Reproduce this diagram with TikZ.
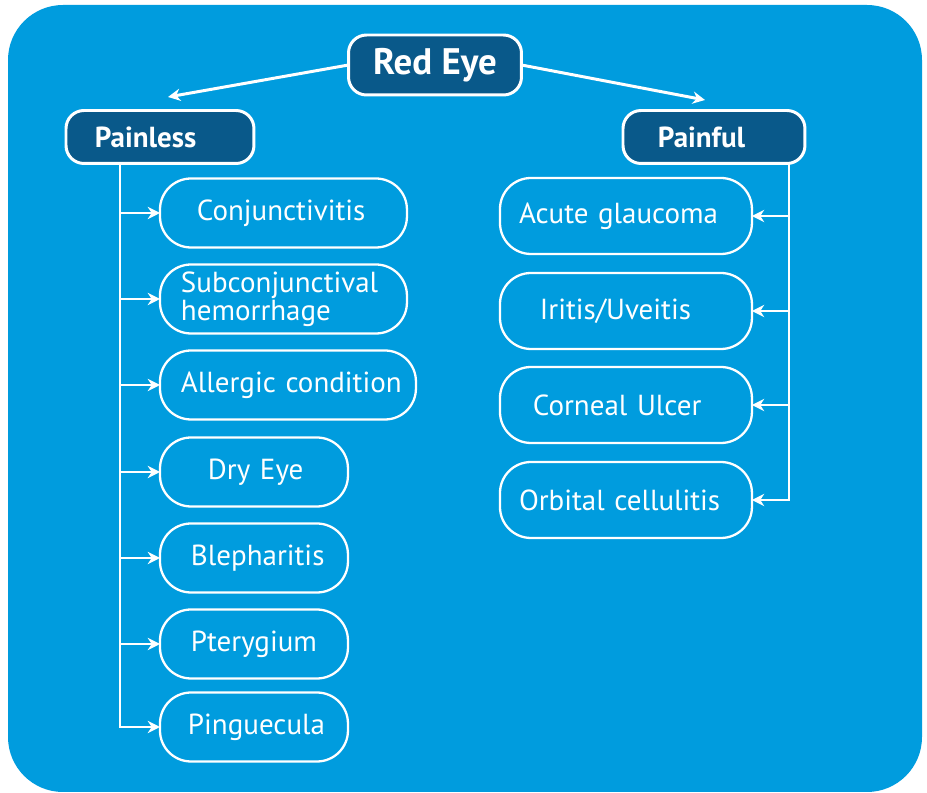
\documentclass[tikz,border=0pt]{standalone}
\usepackage{fontspec}
\setmainfont{PT Sans}
\usetikzlibrary{arrows.meta}
\definecolor{panelblue}{RGB}{0,156,222}
\definecolor{headblue}{RGB}{9,89,138}
\tikzset{
  head/.style={draw=white, line width=1.7pt, fill=headblue, text=white, rounded corners=0.36cm, inner sep=0, outer sep=0, align=left, font=\bfseries\fontsize{16.5}{16}\selectfont},
  leaf/.style={draw=white, line width=1.3pt, text=white, rounded corners=0.62cm, inner sep=0, outer sep=0, anchor=west, minimum height=1.38cm, font=\fontsize{16.5}{13.5}\selectfont, align=left},
  conn/.style={draw=white, line width=1.2pt, -{Stealth[length=7pt, width=7pt]}},
}
\begin{document}
\begin{tikzpicture}[x=0.02cm, y=-0.02cm]
        \useasboundingbox (0,0) rectangle (927,793);
        \fill[white] (0,0) rectangle (927,793);
%%% Start panel
        \fill[panelblue, rounded corners=1.1cm] (8,5) rectangle (922,792);
%%% End panel
%%% Start heads
        \draw (435,65) node[head, minimum width=3.46cm, minimum height=1.2cm, align=center, font=\bfseries\fontsize{21}{21}\selectfont] (redeye) {Red Eye};
        \draw (66,137) node[head, anchor=west, text width=3.76cm, minimum height=1.06cm] (painless) {\hspace*{0.58cm}Painless};
        \draw (623,137) node[head, anchor=west, text width=3.64cm, minimum height=1.06cm] (painful) {\hspace*{0.7cm}Painful};
        \coordinate (lend) at (168,97);
        \coordinate (rend) at (705,100);
        \draw[conn, line width=1.7pt] (redeye.west) -- (lend);
        \draw[conn, line width=1.7pt] (redeye.east) -- (rend);
%%% End heads
%%% Start painless
        \draw (160,213) node[leaf, text width=4.94cm] (conj) {\hspace*{0.74cm}Conjunctivitis};
        \draw (160,299) node[leaf, text width=4.94cm] (subconj) {\hspace*{0.42cm}Subconjunctival\\\hspace*{0.42cm}hemorrhage};
        \draw (160,385) node[leaf, text width=5.12cm] (allergic) {\hspace*{0.42cm}Allergic condition};
        \draw (160,472) node[leaf, text width=3.76cm] (dry) {\hspace*{0.96cm}Dry Eye};
        \draw (160,558) node[leaf, text width=3.76cm] (bleph) {\hspace*{0.62cm}Blepharitis};
        \draw (160,644) node[leaf, text width=3.76cm] (ptery) {\hspace*{0.62cm}Pterygium};
        \draw (160,727) node[leaf, text width=3.76cm] (pingu) {\hspace*{0.56cm}Pinguecula};
        \coordinate (ltrunk) at (120,163);
        \draw[conn] (ltrunk) |- (pingu.west);
        \foreach \n in {conj,subconj,allergic,dry,bleph,ptery}
          \draw[conn] (ltrunk |- \n.west) -- (\n.west);
%%% End painless
%%% Start painful
        \draw (500,216) node[leaf, text width=5.04cm, minimum height=1.52cm] (glauc) {\hspace*{0.38cm}Acute glaucoma};
        \draw (500,311) node[leaf, text width=5.04cm, minimum height=1.52cm] (iritis) {\hspace*{0.8cm}Iritis/Uveitis};
        \draw (500,405) node[leaf, text width=5.04cm, minimum height=1.52cm] (corneal) {\hspace*{0.66cm}Corneal Ulcer};
        \draw (500,500) node[leaf, text width=5.04cm, minimum height=1.52cm] (orbit) {\hspace*{0.38cm}Orbital cellulitis};
        \coordinate (rtrunk) at (789,163);
        \draw[conn] (rtrunk) |- (orbit.east);
        \foreach \n in {glauc,iritis,corneal}
          \draw[conn] (rtrunk |- \n.east) -- (\n.east);
%%% End painful
\end{tikzpicture}
\end{document}
